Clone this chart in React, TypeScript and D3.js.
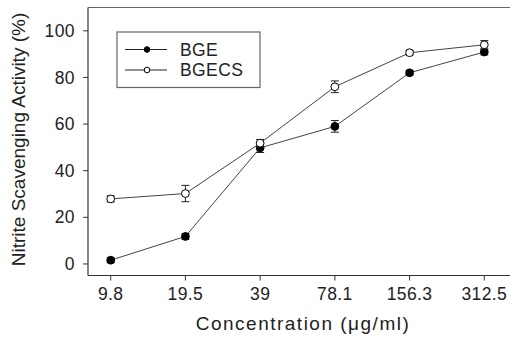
import React from "react";
import * as d3 from "d3";

const categories = ["9.8", "19.5", "39", "78.1", "156.3", "312.5"];
const bgeValues = [1.6, 11.8, 49.8, 59.0, 82.0, 90.9];
const bgeErrors = [1.0, 1.2, 2.0, 2.5, 1.0, 1.2];
const bgecsValues = [27.9, 30.2, 51.8, 76.0, 90.6, 94.0];
const bgecsErrors = [1.3, 3.5, 1.6, 2.5, 1.0, 1.8];
const yTicks = [0, 20, 40, 60, 80, 100];
const seriesNames = ["BGE", "BGECS"];

const W = 510;
const H = 339;
const left = 88;
const top = 7.5;
const bottom = 275.5;

export default function App() {
  const x = d3.scalePoint<string>().domain(categories).range([110.7, 484.3]);
  const y = d3.scaleLinear().domain([-5, 110]).range([bottom + 0.1, top]);
  const line = d3
    .line<number>()
    .x((_, i) => x(categories[i]) as number)
    .y((d) => y(d));

  const series = [
    { name: seriesNames[0], values: bgeValues, errors: bgeErrors, fill: "#000" },
    { name: seriesNames[1], values: bgecsValues, errors: bgecsErrors, fill: "#fff" },
  ];
  const font = "Arial, 'Liberation Sans', sans-serif";

  return (
    <svg
      width={W}
      height={H}
      style={{ position: "absolute", left: 0, top: 0, background: "#fff" }}
      fontFamily={font}
    >
      <rect x={0} y={0} width={W} height={H} fill="#fff" />
      {/* frame */}
      <line x1={left} x2={W} y1={top} y2={top} stroke="#666" strokeWidth={1.2} />
      <line x1={left} x2={left} y1={top} y2={bottom} stroke="#333" strokeWidth={1.2} />
      <line x1={left} x2={W} y1={bottom} y2={bottom} stroke="#333" strokeWidth={1.2} />
      {/* y ticks */}
      {yTicks.map((t) => (
        <g key={t}>
          <line x1={left - 5} x2={left} y1={y(t)} y2={y(t)} stroke="#333" />
          <text
            x={left - 13}
            y={y(t)}
            dy="0.35em"
            textAnchor="end"
            fontSize={17.5}
            letterSpacing={0.4}
            fill="#222"
          >
            {t}
          </text>
        </g>
      ))}
      {/* x ticks */}
      {categories.map((c) => (
        <g key={c}>
          <line x1={x(c)} x2={x(c)} y1={bottom} y2={bottom + 5} stroke="#333" />
          <text
            x={x(c)}
            y={300}
            textAnchor="middle"
            fontSize={17.5}
            letterSpacing={0.4}
            fill="#222"
          >
            {c}
          </text>
        </g>
      ))}
      {/* axis titles */}
      <text
        x={303}
        y={330}
        textAnchor="middle"
        fontSize={19}
        letterSpacing={1.5}
        fill="#222"
      >
        Concentration (μg/ml)
      </text>
      <text
        transform={`translate(25,${(12 + 267) / 2}) rotate(-90)`}
        textAnchor="middle"
        fontSize={19}
        fill="#222"
      >
        Nitrite Scavenging Activity (%)
      </text>
      {/* series */}
      {series.map((s) => (
        <g key={s.name}>
          <path d={line(s.values) || ""} fill="none" stroke="#444" strokeWidth={1} />
          {s.values.map((v, i) => {
            const cx = x(categories[i]) as number;
            const y1 = y(v + s.errors[i]);
            const y2 = y(v - s.errors[i]);
            return (
              <g key={i} stroke="#222" strokeWidth={1}>
                <line x1={cx} x2={cx} y1={y1} y2={y2} />
                <line x1={cx - 4} x2={cx + 4} y1={y1} y2={y1} />
                <line x1={cx - 4} x2={cx + 4} y1={y2} y2={y2} />
              </g>
            );
          })}
          {s.values.map((v, i) => (
            <circle
              key={"c" + i}
              cx={x(categories[i]) as number}
              cy={y(v)}
              r={3.9}
              fill={s.fill}
              stroke="#000"
              strokeWidth={1}
            />
          ))}
        </g>
      ))}
      {/* legend */}
      <rect x={117} y={32} width={143} height={55.5} fill="#fff" stroke="#666" strokeWidth={1.2} />
      {series.map((s, i) => {
        const ly = 49.5 + i * 20.5;
        return (
          <g key={"lg" + s.name}>
            <line x1={125} x2={167} y1={ly} y2={ly} stroke="#222" strokeWidth={1} />
            <circle cx={147} cy={ly} r={2.8} fill={s.fill} stroke="#000" strokeWidth={1} />
            <text x={180} y={ly} dy="0.36em" fontSize={17.5} letterSpacing={0.4} fill="#222">
              {s.name}
            </text>
          </g>
        );
      })}
    </svg>
  );
}
